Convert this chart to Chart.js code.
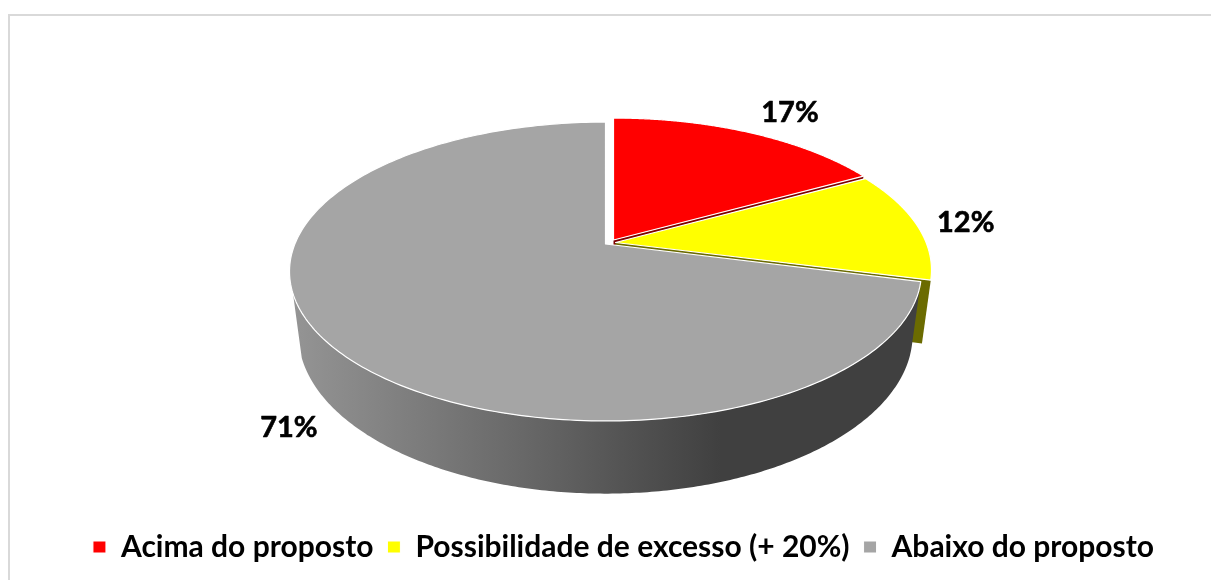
<!DOCTYPE html>
<html><head><meta charset="utf-8">
<style>html,body{margin:0;padding:0;background:#fff}canvas{display:block}</style>
<script src="https://cdn.jsdelivr.net/npm/chart.js@4/dist/chart.umd.min.js"></script>
</head><body>
<div style="position:relative;width:1211px;height:580px"><canvas id="c"></canvas></div>
<script>
const categories = ["Acima do proposto", "Possibilidade de excesso (+ 20%)", "Abaixo do proposto"];
const values = [17, 12, 71];
const sliceColors = ["#ff0000", "#ffff00", "#a5a5a5"];
const wallColors = ["#7f0000", "#6b6b00", "#5a5a5a"];
const explodeOffsets = [[8, -4], [10, -1.5], [0, 0]];
const labelOffsets = [[40, -20], [49, -2], [-40, 84]];

const FONT = "Lato, 'Open Sans', sans-serif";
// perspective of the tilted disc, relative to the pie's own centre
const VIEW = { dx: -18, dy: -25, ax: 310.6, by: 144.4, k: 0.184, depthY: 61, depthSx: 0.972, depthSy: 1.066 };

const pie3d = {
  id: 'pie3d',
  beforeDraw(chart) {
    const c = chart.ctx;
    c.save();
    c.fillStyle = '#fff';
    c.fillRect(0, 0, chart.width, chart.height);
    c.strokeStyle = '#d9d9d9';
    c.lineWidth = 2;
    c.strokeRect(9, 15, chart.width + 20, chart.height + 20);
    c.restore();
  },
  beforeDatasetDraw(chart) {
    const c = chart.ctx, meta = chart.getDatasetMeta(0);
    const first = meta.data[0];
    const cx = first.x + VIEW.dx, cy = first.y + VIEW.dy;
    const A = VIEW.ax, B = VIEW.by;
    const top = (a, o) => {
      const u = Math.cos(a), v = Math.sin(a), w = 1 - VIEW.k * v;
      return [cx + o[0] + A * u / w, cy + o[1] + B * v / w];
    };
    const bot = (a, o) => {
      const u = Math.cos(a), v = Math.sin(a), w = 1 - VIEW.k * v;
      return [cx + o[0] + VIEW.depthSx * A * u / w, cy + o[1] + VIEW.depthY + VIEW.depthSy * B * v / w];
    };
    const arcPts = (f, a0, a1, o) => {
      const n = 240, p = [];
      for (let i = 0; i <= n; i++) p.push(f(a0 + (a1 - a0) * i / n, o));
      return p;
    };
    const poly = pts => {
      c.beginPath();
      pts.forEach((p, i) => i ? c.lineTo(p[0], p[1]) : c.moveTo(p[0], p[1]));
      c.closePath();
    };
    meta.data.forEach((el, i) => {
      const o = explodeOffsets[i], a0 = el.startAngle, a1 = el.endAngle;
      const apexT = [cx + o[0], cy + o[1]];
      const apexB = [cx + o[0], cy + o[1] + VIEW.depthY];
      if (i === 2) {
        const end = Math.PI * 0.895;
        const pts = arcPts(top, a0, end, o).concat(arcPts(bot, end, a0, o));
        const g = c.createLinearGradient(cx - 316, 0, cx + 115, 0);
        g.addColorStop(0, '#959595');
        g.addColorStop(0.6, '#636363');
        g.addColorStop(1, '#404040');
        poly(pts); c.fillStyle = g; c.fill();
      } else {
        poly([apexT, top(a1, o), bot(a1, o), apexB]);
        c.fillStyle = wallColors[i]; c.fill();
      }
      poly([apexT].concat(arcPts(top, a0, a1, o)));
      c.fillStyle = sliceColors[i]; c.fill();
      c.strokeStyle = '#ffffff'; c.lineWidth = 1.2; c.lineJoin = 'round'; c.stroke();
    });
    c.save();
    c.fillStyle = '#000';
    c.strokeStyle = '#000';
    c.lineWidth = 0.6;
    c.font = "bold 29px " + FONT;
    c.textAlign = 'center'; c.textBaseline = 'middle';
    const total = values.reduce((s, v) => s + v, 0);
    meta.data.forEach((el, i) => {
      const o = explodeOffsets[i], p = top((el.startAngle + el.endAngle) / 2, o);
      const t = Math.round(values[i] / total * 100) + '%';
      c.fillText(t, p[0] + labelOffsets[i][0], p[1] + labelOffsets[i][1]);
      c.strokeText(t, p[0] + labelOffsets[i][0], p[1] + labelOffsets[i][1]);
    });
    c.restore();
    return false;
  }
};

new Chart(document.getElementById('c'), {
  type: 'pie',
  data: { labels: categories, datasets: [{ data: values, backgroundColor: sliceColors, borderColor: '#fff', borderWidth: 1 }] },
  plugins: [pie3d],
  options: {
    responsive: true, maintainAspectRatio: false, animation: false,
    rotation: 0, circumference: 360,
    layout: { padding: { left: 36, right: 0, top: 20, bottom: 8 } },
    plugins: {
      tooltip: { enabled: false },
      title: { display: false },
      legend: {
        display: true, position: 'bottom', align: 'center',
        labels: { boxWidth: 13, boxHeight: 12, padding: 14, color: '#000', font: { family: FONT, size: 30, weight: 'bold' } }
      }
    }
  }
});
</script>
</body></html>
